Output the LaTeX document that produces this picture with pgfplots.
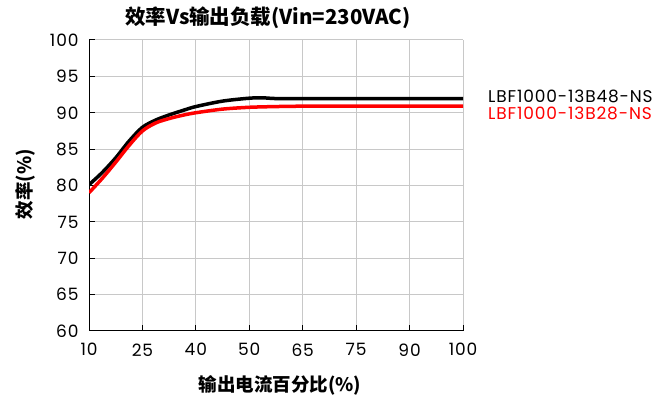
\documentclass[border=0pt]{standalone}
\usepackage{fontspec}
\usepackage{pgfplots}
\pgfplotsset{compat=1.18}
\setmainfont{Poppins}
\newfontfamily\numfont{Poppins}[LetterSpace=5]
\newfontfamily\cjk{Noto Sans CJK SC}
\definecolor{gridgray}{RGB}{200,200,200}

\pgfplotstableread{
x y
0 80.1
0.25 81.8
0.5 83.8
0.75 86.1
1 88.0
1.25 89.0
1.5 89.7
1.75 90.3
2 90.85
2.5 91.6
3 92.0
3.25 92.05
3.5 91.95
4 91.95
5 91.95
6 91.95
7 91.95
}\blackdata

\pgfplotstableread{
x y
0 79.0
0.25 81.0
0.5 83.2
0.75 85.5
1 87.5
1.25 88.6
1.5 89.2
1.75 89.65
2 90.0
2.5 90.5
3 90.75
3.5 90.85
4 90.9
5 90.9
6 90.9
7 90.9
}\reddata

\begin{document}
\begin{tikzpicture}
\path[use as bounding box] (0,0) rectangle (653bp,407bp);
\begin{axis}[
  at={(89bp,76bp)}, anchor=south west,
  width=374bp, height=291bp, scale only axis,
  xmin=0, xmax=7, ymin=60, ymax=100,
  xtick={0,...,7}, xticklabels={10,25,40,50,65,75,90,100},
  ytick={60,65,...,100},
  grid=major, major grid style={gridgray, line width=1bp},
  axis lines*=left, axis line style={-, black, line width=1bp},
  tick align=inside, major tick length=6bp, tick style={black, line width=1bp},
  /pgf/number format/assume math mode=true,
  tick label style={font=\numfont\fontsize{17bp}{20bp}\selectfont},
  xticklabel style={yshift=-9bp},
  yticklabel style={xshift=-7bp},
  title={\cjk\bfseries 效率Vs输出负载(Vin=230VAC)},
  title style={font=\fontsize{20.5bp}{24bp}\selectfont, at={(axis description cs:0.5,1)}, anchor=center, yshift=16bp, xshift=-8bp},
  xlabel={\cjk\bfseries 输出电流百分比(\%)},
  xlabel style={font=\fontsize{18.5bp}{22bp}\selectfont, at={(axis description cs:0.5,0)}, anchor=center, yshift=-54bp, xshift=4bp},
  ylabel={\cjk\bfseries 效率(\%)},
  ylabel style={font=\fontsize{18.5bp}{22bp}\selectfont, at={(axis description cs:-0.171,0.505)}, anchor=center},
  legend image code/.code={},
  legend cell align=left,
  legend style={at={(axis description cs:1,0.778)}, anchor=west, xshift=25bp,
    draw=none, fill=none, inner sep=0pt, column sep=0pt, row sep=5bp,
    font=\numfont\fontsize{17bp}{20bp}\selectfont,
    nodes={inner sep=0pt, text height=12bp, text depth=0bp}},
]
\addplot[black, line width=3.5bp, smooth] table[x=x,y=y] {\blackdata};
\addlegendentry[text=black]{LBF1000-13B48-NS}
\addplot[red, line width=3.5bp, smooth] table[x=x,y=y] {\reddata};
\addlegendentry[text=red]{LBF1000-13B28-NS}
\end{axis}
\end{tikzpicture}
\end{document}
